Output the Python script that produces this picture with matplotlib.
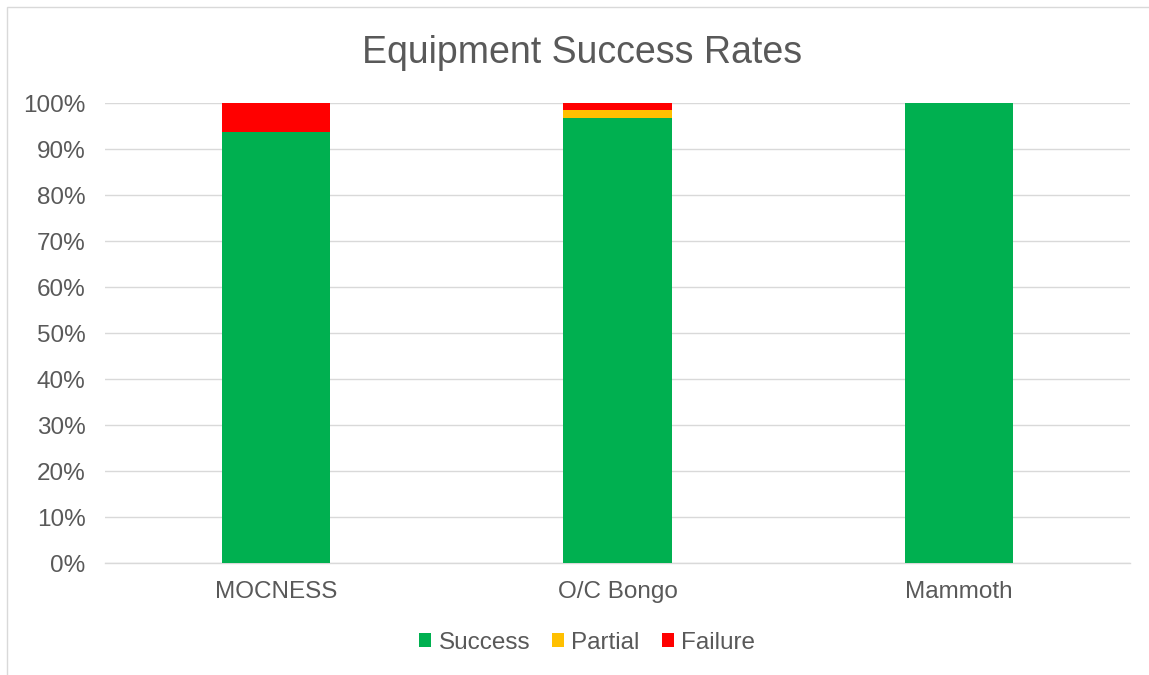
import matplotlib.pyplot as plt
from matplotlib.patches import Rectangle
from matplotlib.ticker import PercentFormatter

plt.rcParams["font.family"] = ["Liberation Sans", "DejaVu Sans"]

equipment = ["MOCNESS", "O/C Bongo", "Mammoth"]
success = [93.8, 96.8, 100.0]
partial = [0.0, 1.6, 0.0]
failure = [6.2, 1.6, 0.0]

GREEN = "#00b050"
YELLOW = "#ffc000"
RED = "#ff0000"
TEXT = "#595959"
GRID = "#d9d9d9"

fig = plt.figure(figsize=(11.49, 6.75), dpi=100)
fig.patches.append(Rectangle((0.006, -0.01), 1.0, 1.0 - 0.0004, transform=fig.transFigure,
                             fill=False, edgecolor=GRID, linewidth=1))
ax = fig.add_axes([0.0914, 0.1659, 0.8921, 0.6815])

x = range(len(equipment))
width = 0.317
bottom2 = [s + p for s, p in zip(success, partial)]
ax.bar(x, success, width, color=GREEN, label="Success", zorder=3)
ax.bar(x, partial, width, bottom=success, color=YELLOW, label="Partial", zorder=3)
ax.bar(x, failure, width, bottom=bottom2, color=RED, label="Failure", zorder=3)

ax.set_xlim(-0.5, 2.5)
ax.set_ylim(0, 100)
ax.set_yticks(range(0, 101, 10))
ax.yaxis.set_major_formatter(PercentFormatter(decimals=0))
ax.set_xticks(list(x))
ax.set_xticklabels(equipment)
ax.tick_params(axis="both", length=0, labelsize=17.5, labelcolor=TEXT)
ax.tick_params(axis="x", pad=13)
ax.tick_params(axis="y", pad=14)
ax.grid(axis="y", color=GRID, linewidth=1, zorder=0)
ax.axhline(0, color=GRID, linewidth=1, zorder=1, clip_on=False)
for side in ["top", "right", "left", "bottom"]:
    ax.spines[side].set_visible(False)

fig.suptitle("Equipment Success Rates", x=0.507, y=0.948, fontsize=27, color=TEXT)

fig.legend(loc="center", bbox_to_anchor=(0.511, 0.048), ncol=3, frameon=False,
           fontsize=17.5, labelcolor=TEXT, handlelength=0.5, handleheight=0.5,
           handletextpad=0.3, columnspacing=0.9)

fig.savefig("out.png", dpi=100)
